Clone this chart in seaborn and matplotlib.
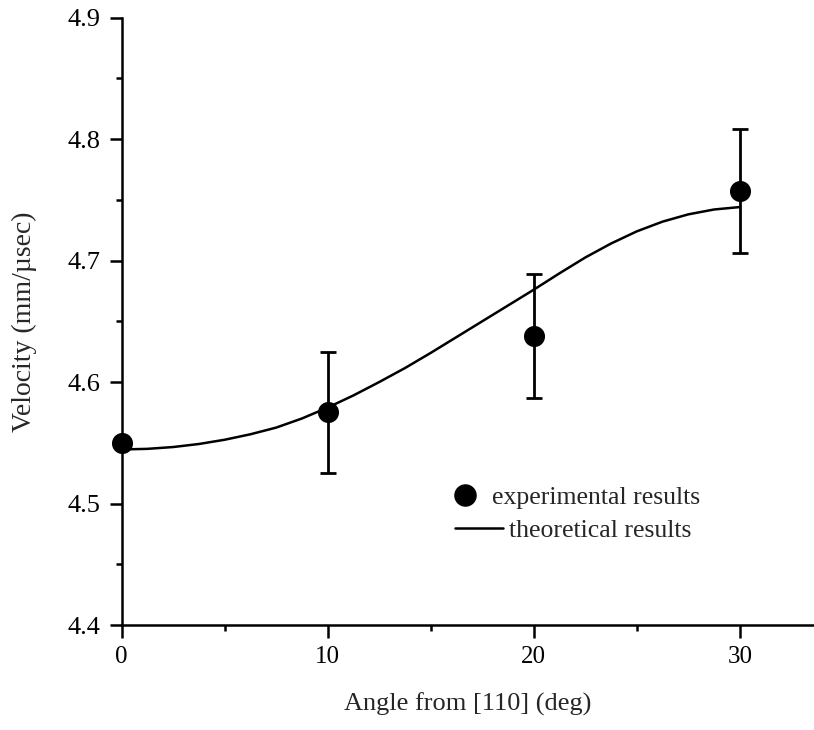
import matplotlib
matplotlib.use("Agg")
import matplotlib.pyplot as plt
from matplotlib.ticker import MultipleLocator
from matplotlib.lines import Line2D
import seaborn as sns
import pandas as pd

# Measured velocities with their uncertainty
exp_angle = [0, 10, 20, 30]
exp_velocity = [4.550, 4.575, 4.638, 4.757]
exp_error = [0.0, 0.050, 0.051, 0.051]

# Theoretical velocity curve
theory_angle = [0, 1.25, 2.5, 3.75, 5, 6.25, 7.5, 8.75, 10, 11.25, 12.5, 13.75,
                15, 16.25, 17.5, 18.75, 20, 21.25, 22.5, 23.75, 25, 26.25,
                27.5, 28.75, 30]
theory_velocity = [4.5445, 4.5450, 4.5465, 4.5490, 4.5525, 4.5570, 4.5625,
                   4.5700, 4.5790, 4.5890, 4.6000, 4.6115, 4.6240, 4.6370,
                   4.6500, 4.6630, 4.6760, 4.6895, 4.7025, 4.7140, 4.7240,
                   4.7320, 4.7380, 4.7420, 4.7440]

x_ticks = [0, 10, 20, 30]
y_ticks = [4.4, 4.5, 4.6, 4.7, 4.8, 4.9]

exp_df = pd.DataFrame({"angle": exp_angle, "velocity": exp_velocity})
theory_df = pd.DataFrame({"angle": theory_angle, "velocity": theory_velocity})

sns.set_theme(style="ticks")
plt.rcParams["font.family"] = ["Liberation Serif", "DejaVu Serif"]
plt.rcParams["font.size"] = 18

fig = plt.figure(figsize=(8.14, 7.3), dpi=100)
ax = fig.add_axes([0.1495, 0.1438, 0.8505, 0.8322])

sns.lineplot(data=theory_df, x="angle", y="velocity", ax=ax, color="black",
             linewidth=1.8, sort=True, legend=False)
ax.errorbar(exp_angle[1:], exp_velocity[1:], yerr=exp_error[1:], fmt="none",
            ecolor="black", elinewidth=2.0, capsize=5.5, capthick=2.0, zorder=3)
sns.scatterplot(data=exp_df, x="angle", y="velocity", ax=ax, color="black",
                s=230, edgecolor="black", linewidth=0, zorder=4,
                clip_on=False, legend=False)

ax.set_xlim(0, 33.6)
ax.set_ylim(4.4, 4.9)
ax.set_xticks(x_ticks)
ax.set_yticks(y_ticks)
ax.set_yticklabels([f"{v:.1f}" for v in y_ticks])
ax.xaxis.set_minor_locator(MultipleLocator(5))
ax.yaxis.set_minor_locator(MultipleLocator(0.05))

for side in ("top", "right"):
    ax.spines[side].set_visible(False)
for side in ("left", "bottom"):
    ax.spines[side].set_linewidth(1.8)
    ax.spines[side].set_color("black")

ax.tick_params(axis="both", which="major", direction="out", length=9,
               width=1.8, colors="black", pad=6)
ax.tick_params(axis="y", which="major", labelsize=19)
ax.tick_params(axis="x", which="major", labelsize=18)
ax.tick_params(axis="both", which="minor", direction="out", length=4.5,
               width=1.8, colors="black")

ax.set_xlabel("Angle from [110] (deg)", fontsize=19, labelpad=18)
ax.set_ylabel("Velocity (mm/\u00b5sec)", fontsize=20, labelpad=22)

# Two legend entries, each placed on its own row
dot_handle = Line2D([], [], linestyle="none", marker="o", markersize=15.2,
                    color="black")
line_handle = Line2D([], [], color="black", linewidth=1.8)
leg1 = ax.legend([dot_handle], ["experimental results"], loc="center left",
                 bbox_to_anchor=(0.4769, 0.2107), frameon=False, fontsize=18.5,
                 handlelength=1.0, handletextpad=0.55, borderpad=0,
                 borderaxespad=0)
ax.add_artist(leg1)
ax.legend([line_handle], ["theoretical results"], loc="center left",
          bbox_to_anchor=(0.4812, 0.1564), frameon=False, fontsize=18.5,
          handlelength=1.87, handletextpad=0.25, borderpad=0, borderaxespad=0)

fig.savefig("out.png", dpi=100)
